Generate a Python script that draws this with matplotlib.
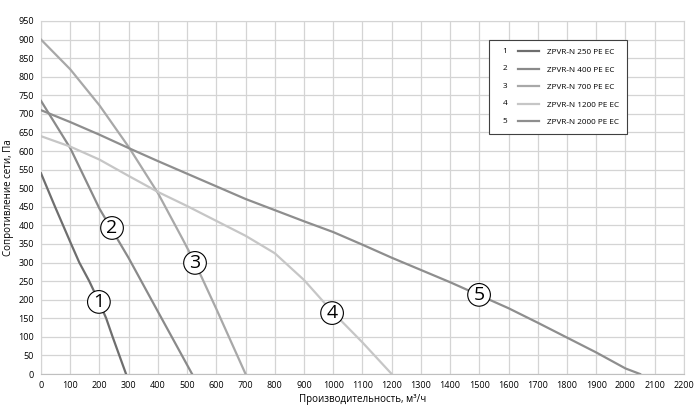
import matplotlib.pyplot as plt
from matplotlib.lines import Line2D
from matplotlib.text import Text
from matplotlib.legend_handler import HandlerBase

plt.rcParams['font.family'] = ['Open Sans', 'DejaVu Sans']

#data
MODELS = ['ZPVR-N 250 PE EC', 'ZPVR-N 400 PE EC', 'ZPVR-N 700 PE EC',
          'ZPVR-N 1200 PE EC', 'ZPVR-N 2000 PE EC']
NUMBERS = ['1', '2', '3', '4', '5']

flow_1 = [0, 48, 103, 131, 165, 195, 223, 245, 268, 291]
pres_1 = [540, 450, 350, 300, 250, 200, 150, 100, 50, 0]

flow_2 = [0, 100, 200, 300, 400, 517]
pres_2 = [735, 608, 445, 312, 168, 0]

flow_3 = [0, 100, 200, 300, 400, 486, 527, 600, 700]
pres_3 = [900, 820, 723, 611, 487, 361, 299, 175, 0]

flow_4 = [0, 100, 200, 300, 400, 500, 600, 700, 800, 900, 1000, 1100, 1200]
pres_4 = [640, 612, 577, 533, 490, 452, 412, 372, 325, 253, 165, 85, 0]

flow_5 = [0, 100, 200, 300, 400, 500, 600, 700, 800, 900, 1000, 1100, 1200,
          1300, 1400, 1500, 1600, 1700, 1800, 1900, 2000, 2050]
pres_5 = [710, 678, 644, 608, 573, 539, 505, 471, 441, 411, 382, 348, 313,
          280, 247, 212, 177, 138, 98, 58, 15, 0]

#circle labels (x, y) in data units
LABEL_X = [198, 243, 527, 996, 1499]
LABEL_Y = [194, 393, 299, 164, 213]

COLORS = ['#6e6e6e', '#8a8a8a', '#a8a8a8', '#c6c6c6', '#8e8e8e']
GRID = '#d4d4d4'

flows = [flow_1, flow_2, flow_3, flow_4, flow_5]
pressures = [pres_1, pres_2, pres_3, pres_4, pres_5]


#legend handle: number on the left, then a short line
class NumberLineHandler(HandlerBase):
    def __init__(self, num):
        super().__init__()
        self.num = num

    def create_artists(self, legend, orig_handle, xdescent, ydescent,
                       width, height, fontsize, trans):
        y = -ydescent + height / 2
        txt = Text(-xdescent + width * 0.13, y, self.num, ha='left',
                   va='center', fontsize=fontsize, transform=trans)
        line = Line2D([-xdescent + width * 0.51, -xdescent + width], [y, y],
                      color=orig_handle.get_color(), linewidth=1.6,
                      transform=trans)
        return [txt, line]


fig = plt.figure(figsize=(7, 4.2), dpi=100)
ax = fig.add_axes([0.0586, 0.1095, 0.9184, 0.8405])

for flow, pres, color in zip(flows, pressures, COLORS):
    ax.plot(flow, pres, color=color, linewidth=1.6, zorder=3)

for x, y, num in zip(LABEL_X, LABEL_Y, NUMBERS):
    ax.text(x, y, num, ha='center', va='center', fontsize=14, zorder=5,
            bbox=dict(boxstyle='circle,pad=0.12', facecolor='white',
                      edgecolor='black', linewidth=0.8))

ax.set_xlim(0, 2200)
ax.set_ylim(0, 950)
ax.set_xticks(range(0, 2201, 100))
ax.set_yticks(range(0, 951, 50))
ax.tick_params(length=0, labelsize=6.5, pad=5)
ax.grid(True, color=GRID, linewidth=0.9)
ax.set_axisbelow(True)
for side in ['top', 'right', 'left', 'bottom']:
    ax.spines[side].set_color(GRID)
ax.spines['bottom'].set_color('#bfbfbf')

ax.set_xlabel('Производительность, м³/ч', fontsize=7, labelpad=3)
ax.set_ylabel('Сопротивление сети, Па', fontsize=7)
ax.yaxis.set_label_coords(-0.042, 0.5)

handles = [Line2D([], [], color=c, linewidth=1.6) for c in COLORS]
leg = ax.legend(handles, MODELS,
                handler_map={h: NumberLineHandler(n)
                             for h, n in zip(handles, NUMBERS)},
                loc='upper left', bbox_to_anchor=(0.6967, 0.946),
                borderaxespad=0, fontsize=5.9, frameon=True, fancybox=False,
                framealpha=1, edgecolor='#404040', handlelength=5.1,
                handletextpad=1.0, labelspacing=1.2, borderpad=1.0)
leg.get_frame().set_linewidth(0.8)
leg.set_zorder(6)

fig.savefig('out.png', dpi=100)
